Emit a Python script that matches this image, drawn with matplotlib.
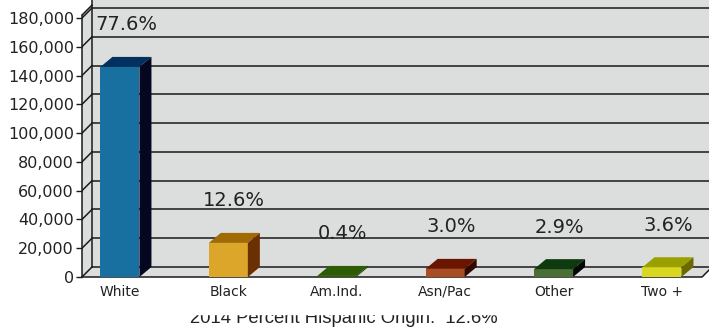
import matplotlib
matplotlib.use("Agg")
import matplotlib.pyplot as plt
from matplotlib.patches import Polygon, Rectangle
import numpy as np

# race breakdown, 2014
categories = ["White", "Black", "Am.Ind.", "Asn/Pac", "Other", "Two +"]
population = [146000, 23700, 750, 5640, 5460, 6770]
pct_labels = ["77.6%", "12.6%", "0.4%", "3.0%", "2.9%", "3.6%"]
yticks = list(range(0, 180001, 20000))
footer = "2014 Percent Hispanic Origin:  12.6%"

front_colors = ["#1770a0", "#dba62a", "#2d5c06", "#a84e22", "#4a6e35", "#d8d822"]
top_colors = ["#03315f", "#a06a05", "#2d5c06", "#6a1500", "#0f3a0f", "#9aa000"]
side_colors = ["#05061f", "#6a3002", "#1c3a02", "#300800", "#030803", "#6a6a00"]

wall = "#dcdddd"
ink = "#1a1a1a"

W, H = 709, 331
fig = plt.figure(figsize=(W / 100, H / 100), dpi=100)
ax = fig.add_axes([82 / W, 54 / H, 627 / W, 277 / H])
ax.set_facecolor("white")
for s in ax.spines.values():
    s.set_visible(False)

xl, xr = -0.35, 5.37
ax.set_xlim(xl, 5.434)
ax.set_ylim(0, 192500)

inv = ax.transData.inverted()
def px2data(dx, dy):
    x0, y0 = inv.transform((0, 0))
    x1, y1 = inv.transform((dx, dy))
    return x1 - x0, y1 - y0

dxw, dyw = px2data(10, 10)   # depth of the walls
dxb, dyb = px2data(12, 10)   # depth of the bars
xfar = 6.0
ytop = 200000
yaxis_top = 182000

# walls and floor
ax.add_patch(Rectangle((xl + dxw, dyw), xfar - xl, ytop, color=wall, lw=0, zorder=0))
ax.add_patch(Polygon([(xl, 0), (xl + dxw, dyw), (xl + dxw, yaxis_top + dyw), (xl, yaxis_top)],
                     closed=True, color=wall, lw=0, zorder=0))
ax.add_patch(Polygon([(xl, 0), (xr, 0), (xr + dxw, dyw), (xl + dxw, dyw)],
                     closed=True, color=wall, lw=0, zorder=0))

# grid lines on back wall and left wall
for v in yticks:
    ax.plot([xl + dxw, xfar], [v + dyw, v + dyw], color=ink, lw=1.1, zorder=1)
    ax.plot([xl, xl + dxw], [v, v + dyw], color=ink, lw=1.1, zorder=1)
ax.plot([xl + dxw, xl + dxw], [dyw, ytop], color=ink, lw=1.1, zorder=1)
ax.plot([xl, xl], [0, yaxis_top], color=ink, lw=1.1, zorder=1, clip_on=False)
ax.plot([xl, xl + dxw], [yaxis_top, yaxis_top + dyw], color=ink, lw=1.1, zorder=1)
ax.plot([xl, xr, xr + dxw], [0, 0, dyw], color=ink, lw=1.1, zorder=1, clip_on=False)

# 3d bars
x = np.arange(len(categories))
bw = 0.36
ax.bar(x, population, width=bw, color=front_colors, lw=0, zorder=3)
for xi, h, tc, sc, lbl in zip(x, population, top_colors, side_colors, pct_labels):
    l, r = xi - bw / 2, xi + bw / 2
    ax.add_patch(Polygon([(l, h), (r, h), (r + dxb, h + dyb), (l + dxb, h + dyb)],
                         closed=True, color=tc, lw=0, zorder=3))
    ax.add_patch(Polygon([(r, 0), (r + dxb, dyb), (r + dxb, h + dyb), (r, h)],
                         closed=True, color=sc, lw=0, zorder=3))
    ax.annotate(lbl, (xi, h), xytext=(6, 42), textcoords="offset pixels",
                ha="center", va="center", fontsize=14, color="#222222", zorder=4)

ax.set_xticks(x, categories, fontsize=10, color="#222222")
ax.tick_params(axis="x", length=0, pad=5.5)
ax.set_yticks(yticks, ["{:,}".format(v) for v in yticks], fontsize=11.5, color="#222222")
ax.tick_params(axis="y", length=4.3, width=1, color=ink, pad=1.5)

# footer, its top hidden under the chart margin
fig.text(344 / W, (H - 323) / H, footer, ha="center", va="baseline",
         fontsize=13.3, family="Liberation Sans", color="#222222", zorder=1)
fig.patches.append(Rectangle((150 / W, (H - 313.5) / H), 410 / W, 13.5 / H,
                             transform=fig.transFigure, color="white", zorder=5))

fig.savefig("out.png", dpi=100)
